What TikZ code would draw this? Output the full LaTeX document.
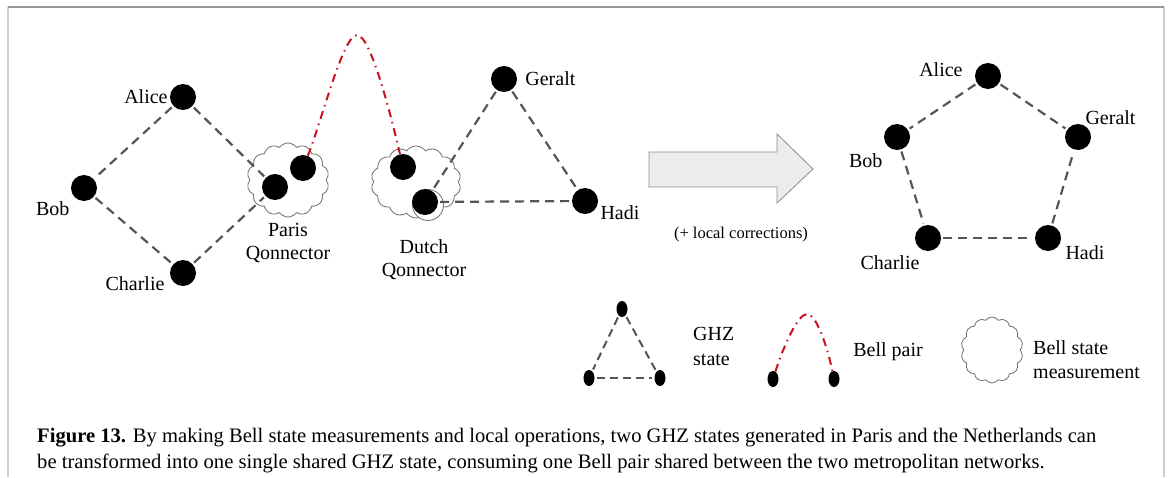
\documentclass[tikz,border=0pt]{standalone}
\usepackage{fontspec}
\setmainfont{Liberation Serif}
\usetikzlibrary{shapes.symbols,shapes.geometric,positioning}

\definecolor{edgegray}{RGB}{85,85,85}
\definecolor{cloudgray}{RGB}{110,110,110}
\definecolor{bellred}{RGB}{200,16,30}
\definecolor{framegray}{RGB}{150,150,150}
\definecolor{sidegray}{RGB}{205,205,205}
\definecolor{arrowfill}{RGB}{236,236,236}
\definecolor{arrowline}{RGB}{140,140,140}

\begin{document}
\begin{tikzpicture}[
    x=1pt, y=-1pt,
    qubit/.style={circle, fill=black, inner sep=0pt, minimum size=26pt},
    smallqubit/.style={ellipse, fill=black, inner sep=0pt, minimum width=11pt, minimum height=16pt},
    tag/.style={inner sep=0pt, font=\fontsize{20}{23}\selectfont},
    bsm/.style={cloud, cloud puffs=14, cloud puff arc=110, cloud ignores aspect, draw=cloudgray, fill=white, line width=0.8pt, inner sep=0pt},
    ghz/.style={draw=edgegray, line width=2.2pt, dash pattern=on 9pt off 6pt, shorten >=2pt, shorten <=2pt},
    bell/.style={draw=bellred, line width=2pt, dash pattern=on 8pt off 5pt on 1.5pt off 5pt}
]
\useasboundingbox (0,0) rectangle (1168,477);

% frame
\draw[sidegray, line width=2pt] (8,477) -- (8,7);
\draw[sidegray, line width=2.5pt] (1164,7) -- (1164,477);
\draw[framegray, line width=1.5pt] (8,7) -- (1164,7);

% Qonnectors
\node[bsm, minimum width=82pt, minimum height=74pt] (pc) at (288,180) {};
\node[bsm, minimum width=90pt, minimum height=72pt] (dc) at (416,182) {};
\node[circle, draw=cloudgray, fill=white, line width=0.8pt, minimum size=31pt, inner sep=0pt] (d2ring) at (428,205) {};

% Paris network
\node[qubit] (a1) at (183,97) {};
\node[qubit] (b1) at (84,188) {};
\node[qubit] (c1) at (183,273) {};
\node[qubit] (p1) at (275,187) {};
\node[qubit] (p2) at (303,168) {};

% Dutch network
\node[qubit] (d1) at (403,167) {};
\node[qubit] (d2) at (425,202) {};
\node[qubit] (g1) at (504,79) {};
\node[qubit] (h1) at (585,201) {};

% labels left
\node[tag, left=2pt of a1] (a1lbl) {Alice};
\node[tag, below left=4pt and 5pt of b1] (b1lbl) {Bob};
\node[tag, below left=-6pt and 9pt of c1] (c1lbl) {Charlie};
\node[tag, align=center, below=6pt of pc] (pclbl) {Paris\\Qonnector};
\node[tag, align=center, below=21pt of dc, xshift=8pt] (dclbl) {Dutch\\Qonnector};
\node[tag, right=8pt of g1] (g1lbl) {Geralt};
\node[tag, below right=-5pt and 6pt of h1] (h1lbl) {Hadi};

% GHZ states
\draw[ghz] (a1) -- (b1);
\draw[ghz] (b1) -- (c1);
\draw[ghz] (a1) -- (p1);
\draw[ghz] (c1) -- (p1);
\draw[ghz] (g1) -- (d2);
\draw[ghz] (g1) -- (h1);
\draw[ghz] (d2) -- (h1);

% Bell pair
\coordinate (belltop) at (357,35);
\draw[bell] (p2) .. controls (322,120) and (343,35) .. (belltop)
    .. controls (371,35) and (392,120) .. (d1);

% transformation
\draw[fill=arrowfill, draw=arrowline, line width=0.8pt]
    (649,152) -- (777,152) -- (777,134) -- (813,169) -- (777,203) -- (777,187) -- (649,187) -- cycle;
\node[inner sep=0pt, font=\fontsize{16.5}{20}\selectfont] (corr) at (741,235) {(+ local corrections)};

% shared GHZ state
\node[qubit] (a2) at (988,76) {};
\node[qubit] (g2) at (1078,137) {};
\node[qubit] (b2) at (897,137) {};
\node[qubit] (c2) at (928,238) {};
\node[qubit] (h2) at (1048,238) {};

\node[tag, left=12pt of a2, yshift=6pt] (a2lbl) {Alice};
\node[tag, above right=3pt and -2pt of g2] (g2lbl) {Geralt};
\node[tag, below left=7pt and 5pt of b2] (b2lbl) {Bob};
\node[tag, below left=8pt and -1pt of c2] (c2lbl) {Charlie};
\node[tag, below right=-2pt and 8pt of h2] (h2lbl) {Hadi};

\draw[ghz] (a2) -- (b2);
\draw[ghz] (a2) -- (g2);
\draw[ghz] (b2) -- (c2);
\draw[ghz] (c2) -- (h2);
\draw[ghz] (h2) -- (g2);

% legend
\node[smallqubit] (lt) at (622,309) {};
\node[smallqubit] (ll) at (589,378) {};
\node[smallqubit] (lr) at (660,378) {};
\draw[ghz, line width=2pt, dash pattern=on 8pt off 5pt] (lt) -- (ll);
\draw[ghz, line width=2pt, dash pattern=on 8pt off 5pt] (lt) -- (lr);
\draw[ghz, line width=2pt, dash pattern=on 8pt off 5pt] (ll) -- (lr);
\node[tag, anchor=west, align=left, font=\fontsize{20}{25}\selectfont] (ghzlbl) at (693,346) {GHZ\\state};

\node[smallqubit] (lb1) at (773,379) {};
\node[smallqubit] (lb2) at (834,379) {};
\coordinate (lbtop) at (807,314);
\draw[bell] (lb1) .. controls (784,345) and (798,314) .. (lbtop)
    .. controls (816,314) and (827,345) .. (lb2);
\node[tag] (belllbl) at (888,352) {Bell pair};

\node[bsm, minimum width=62pt, minimum height=66pt] (lc) at (992,350) {};
\node[tag, anchor=west, align=left, font=\fontsize{20}{24}\selectfont] (bsmlbl) at (1033,360) {Bell state\\measurement};

% caption
\node[anchor=west, inner sep=0pt, align=left, font=\fontsize{20.6}{26}\selectfont] (cap) at (37,451)
    {\textbf{Figure 13.} By making Bell state measurements and local operations, two GHZ states generated in Paris and the Netherlands can\\
     be transformed into one single shared GHZ state, consuming one Bell pair shared between the two metropolitan networks.};
\end{tikzpicture}
\end{document}
